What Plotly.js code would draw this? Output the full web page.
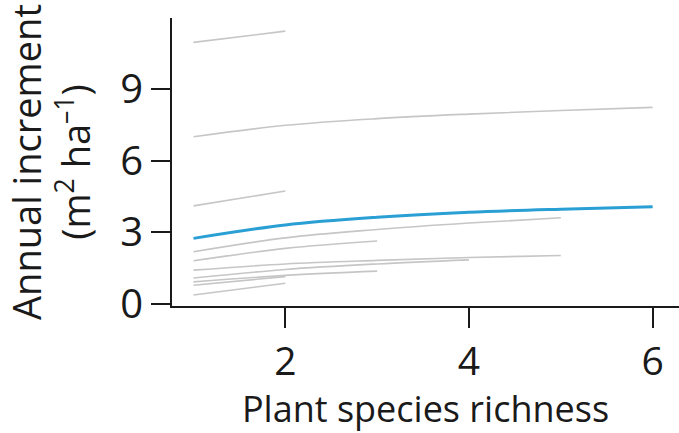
<!DOCTYPE html>
<html>
<head>
<meta charset="utf-8">
<script src="https://cdn.plot.ly/plotly-3.0.1.min.js"></script>
<style>html,body{margin:0;padding:0;background:#fff;}#chart{width:679px;height:433px;}</style>
</head>
<body>
<div id="chart"></div>
<script>
// Individual study curves (grey) : richness levels and annual increment
const studyX = [
  [1, 2],
  [1, 2, 3, 4, 5, 6],
  [1, 2],
  [1, 2, 3, 4, 5],
  [1, 2, 3],
  [1, 2, 3, 4, 5],
  [1, 2, 3, 4],
  [1, 2, 3],
  [1, 2],
  [1, 2]
];
const studyY = [
  [10.95, 11.42],
  [7.0, 7.48, 7.76, 7.95, 8.1, 8.23],
  [4.11, 4.73],
  [2.19, 2.77, 3.12, 3.39, 3.61],
  [1.81, 2.33, 2.64],
  [1.42, 1.68, 1.83, 1.95, 2.03],
  [1.09, 1.45, 1.68, 1.85],
  [0.93, 1.2, 1.38],
  [0.79, 1.15],
  [0.38, 0.87]
];
// Overall mean curve (blue)
const meanX = [1, 2, 3, 4, 5, 6];
const meanY = [2.75, 3.31, 3.63, 3.84, 3.97, 4.07];

const xTicks = [2, 4, 6];
const yTicks = [0, 3, 6, 9];

const traces = [];
for (let i = 0; i < studyX.length; i++) {
  traces.push({
    x: studyX[i], y: studyY[i], type: 'scatter', mode: 'lines',
    line: {color: '#c6c6c6', width: 1.6, shape: 'spline'},
    hoverinfo: 'skip', showlegend: false
  });
}
traces.push({
  x: meanX, y: meanY, type: 'scatter', mode: 'lines',
  line: {color: '#2a9fd4', width: 3, shape: 'spline'},
  showlegend: false
});

const fontFam = '"Open Sans", "Noto Sans", sans-serif';
const layout = {
  width: 679, height: 433,
  margin: {l: 172, r: 0, t: 18, b: 127},
  paper_bgcolor: '#ffffff', plot_bgcolor: '#ffffff',
  font: {family: fontFam, color: '#1a1a1a', size: 40},
  showlegend: false,
  xaxis: {
    range: [0.766, 6.287],
    tickvals: xTicks, ticktext: xTicks.map(String),
    showgrid: false, zeroline: false,
    showline: true, linecolor: '#1a1a1a', linewidth: 2,
    ticks: 'outside', ticklen: 20, tickwidth: 2, tickcolor: '#1a1a1a',
    tickfont: {size: 39, family: fontFam, color: '#1a1a1a'},
    title: {text: 'Plant species richness', font: {size: 36, family: fontFam, color: '#1a1a1a'}, standoff: 10}
  },
  yaxis: {
    range: [-0.08, 11.97],
    tickvals: yTicks, ticktext: yTicks.map(String),
    showgrid: false, zeroline: false,
    showline: true, linecolor: '#1a1a1a', linewidth: 2,
    ticks: 'outside', ticklen: 19, tickwidth: 2, tickcolor: '#1a1a1a',
    tickfont: {size: 40, family: fontFam, color: '#1a1a1a'},
    title: {text: 'Annual increment<br>(m<sup>2</sup> ha<sup>–1</sup>)', font: {size: 38, family: fontFam, color: '#1a1a1a'}, standoff: 31}
  }
};

Plotly.newPlot('chart', traces, layout, {displayModeBar: false, staticPlot: true});
</script>
</body>
</html>
